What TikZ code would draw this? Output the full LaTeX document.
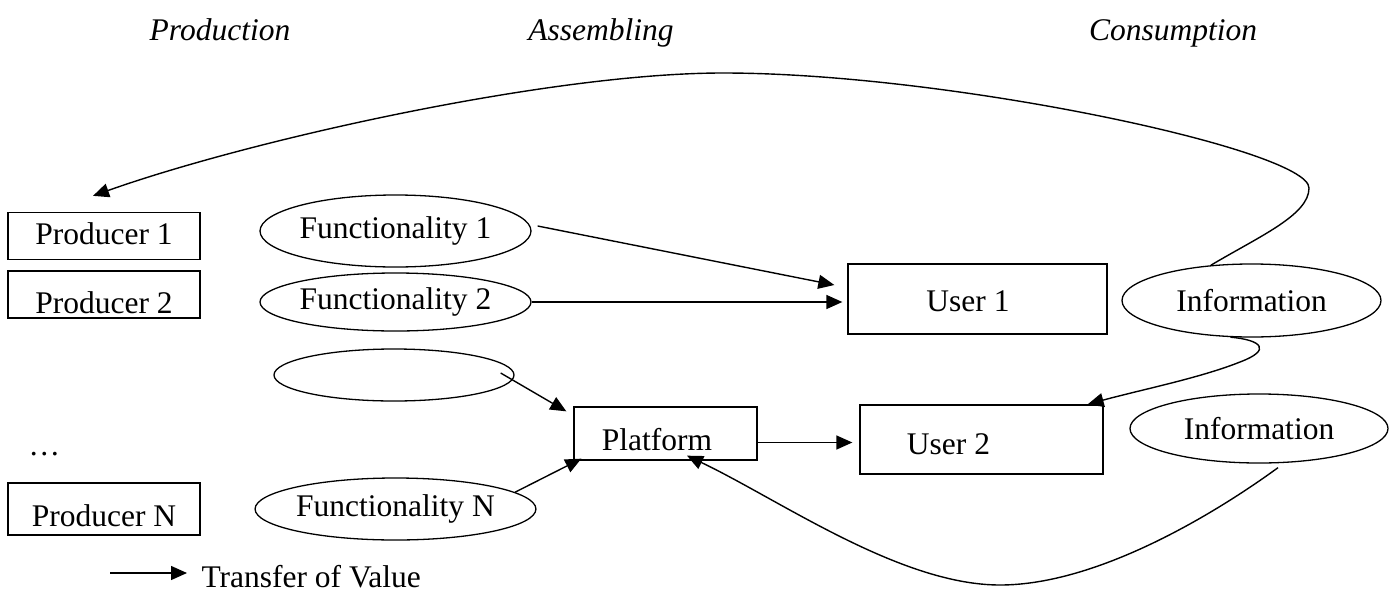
\documentclass[tikz,border=0pt]{standalone}
\usepackage{fontspec}
\setmainfont{Liberation Serif}
\usetikzlibrary{arrows.meta,shapes.geometric,calc}
\newcommand\lab{\fontsize{31.5}{38}\selectfont}
\begin{document}
\begin{tikzpicture}[x=1pt,y=-1pt,
  box/.style={draw, line width=1.3pt, inner sep=0pt, font=\lab},
  oval/.style={draw, ellipse, line width=1.3pt, inner sep=0pt, font=\lab},
  title/.style={anchor=base, font=\lab\itshape},
  flow/.style={line width=1.4pt, -{Triangle[length=16pt,width=14pt]}}]
\useasboundingbox (0,0) rectangle (1398,592);

% column headings
\node[title] (tprod) at (220,40) {Production};
\node[title] (tasm)  at (601,40) {Assembling};
\node[title] (tcons) at (1173,40) {Consumption};

% producers
\node[box, minimum width=192pt, minimum height=47pt, text height=32pt, text depth=15pt] (p1) at (104,236) {Producer 1};
\node[box, minimum width=192pt, minimum height=47pt, text height=42pt, text depth=5pt] (p2) at (104,294.5) {Producer 2};
\node[anchor=base west, font=\lab] (dots) at (25,455) {…};
\node[box, minimum width=192pt, minimum height=52pt, text height=43pt, text depth=9pt] (pN) at (104,509) {Producer N};

% functionalities
\node[oval, minimum width=237pt, minimum height=72pt] (f1) at (395.5,231) {Functionality 1};
\node[oval, minimum width=237pt, minimum height=58pt] (f2) at (395.5,302) {Functionality 2};
\node[oval, minimum width=240pt, minimum height=52pt] (fe) at (394,375) {};
\node[oval, minimum width=237pt, minimum height=62pt] (fN) at (395.5,509) {Functionality N};

% platform and users
\node[box, minimum width=183pt, minimum height=53pt, text height=43pt, text depth=10pt] (plat) at (665.5,433.5) {Platform\kern17pt};
\node[box, minimum width=259pt, minimum height=70pt, text height=47pt, text depth=23pt] (u1) at (977.5,299) {User 1\kern19pt};
\node[box, minimum width=243pt, minimum height=69pt, text height=49pt, text depth=20pt] (u2) at (981.5,439.5) {User 2\kern66pt};

% information
\node[oval, minimum width=259pt, minimum height=73pt] (i1) at (1251.5,300.5) {Information};
\node[oval, minimum width=258pt, minimum height=69pt] (i2) at (1259,428.5) {Information};

% free ends
\coordinate (p1in) at ([xshift=-11pt,yshift=16pt]p1.north);

% transfers of value
\draw[flow] ([xshift=6pt,yshift=5pt]f1.east) -- ([xshift=-13pt,yshift=14pt]u1.west);
\draw[flow] (f2.east) -- ([xshift=-5pt]f2.east -| u1.west);
\draw[flow] ([xshift=-14pt,yshift=2pt]fe.east) -- ([xshift=-7pt,yshift=-5pt]plat.north west);
\draw[flow] (fN.8) -- ([xshift=8pt,yshift=2pt]plat.south west);
\draw[flow] ([yshift=-9pt]plat.east) -- ([xshift=-7pt,yshift=-9pt]plat.east -| u2.west);

\draw[flow] (i1.139) .. controls (1260,236) and (1309,215) .. (1309,188)
  .. controls (1309,150) and (950,73) .. (723,73)
  .. controls (550,73) and (250,140) .. (p1in);
\draw[flow] (i1.240) .. controls (1262,340) and (1272,350) .. (1240,362)
  .. controls (1200,378) and (1140,390) .. ([xshift=-16pt]u2.north east);
\draw[flow] ([xshift=19pt,yshift=-4pt]i2.south) .. controls (1220,510) and (1100,585) .. (1000,585)
  .. controls (900,585) and (780,500) .. ([xshift=21.5pt,yshift=5pt]plat.south);

% legend
\coordinate (legA) at (110,573);
\coordinate (legB) at (187,573);
\draw[flow] (legA) -- (legB);
\node[anchor=base west, font=\lab] (legT) at (198,587) {Transfer of Value};
\end{tikzpicture}
\end{document}
